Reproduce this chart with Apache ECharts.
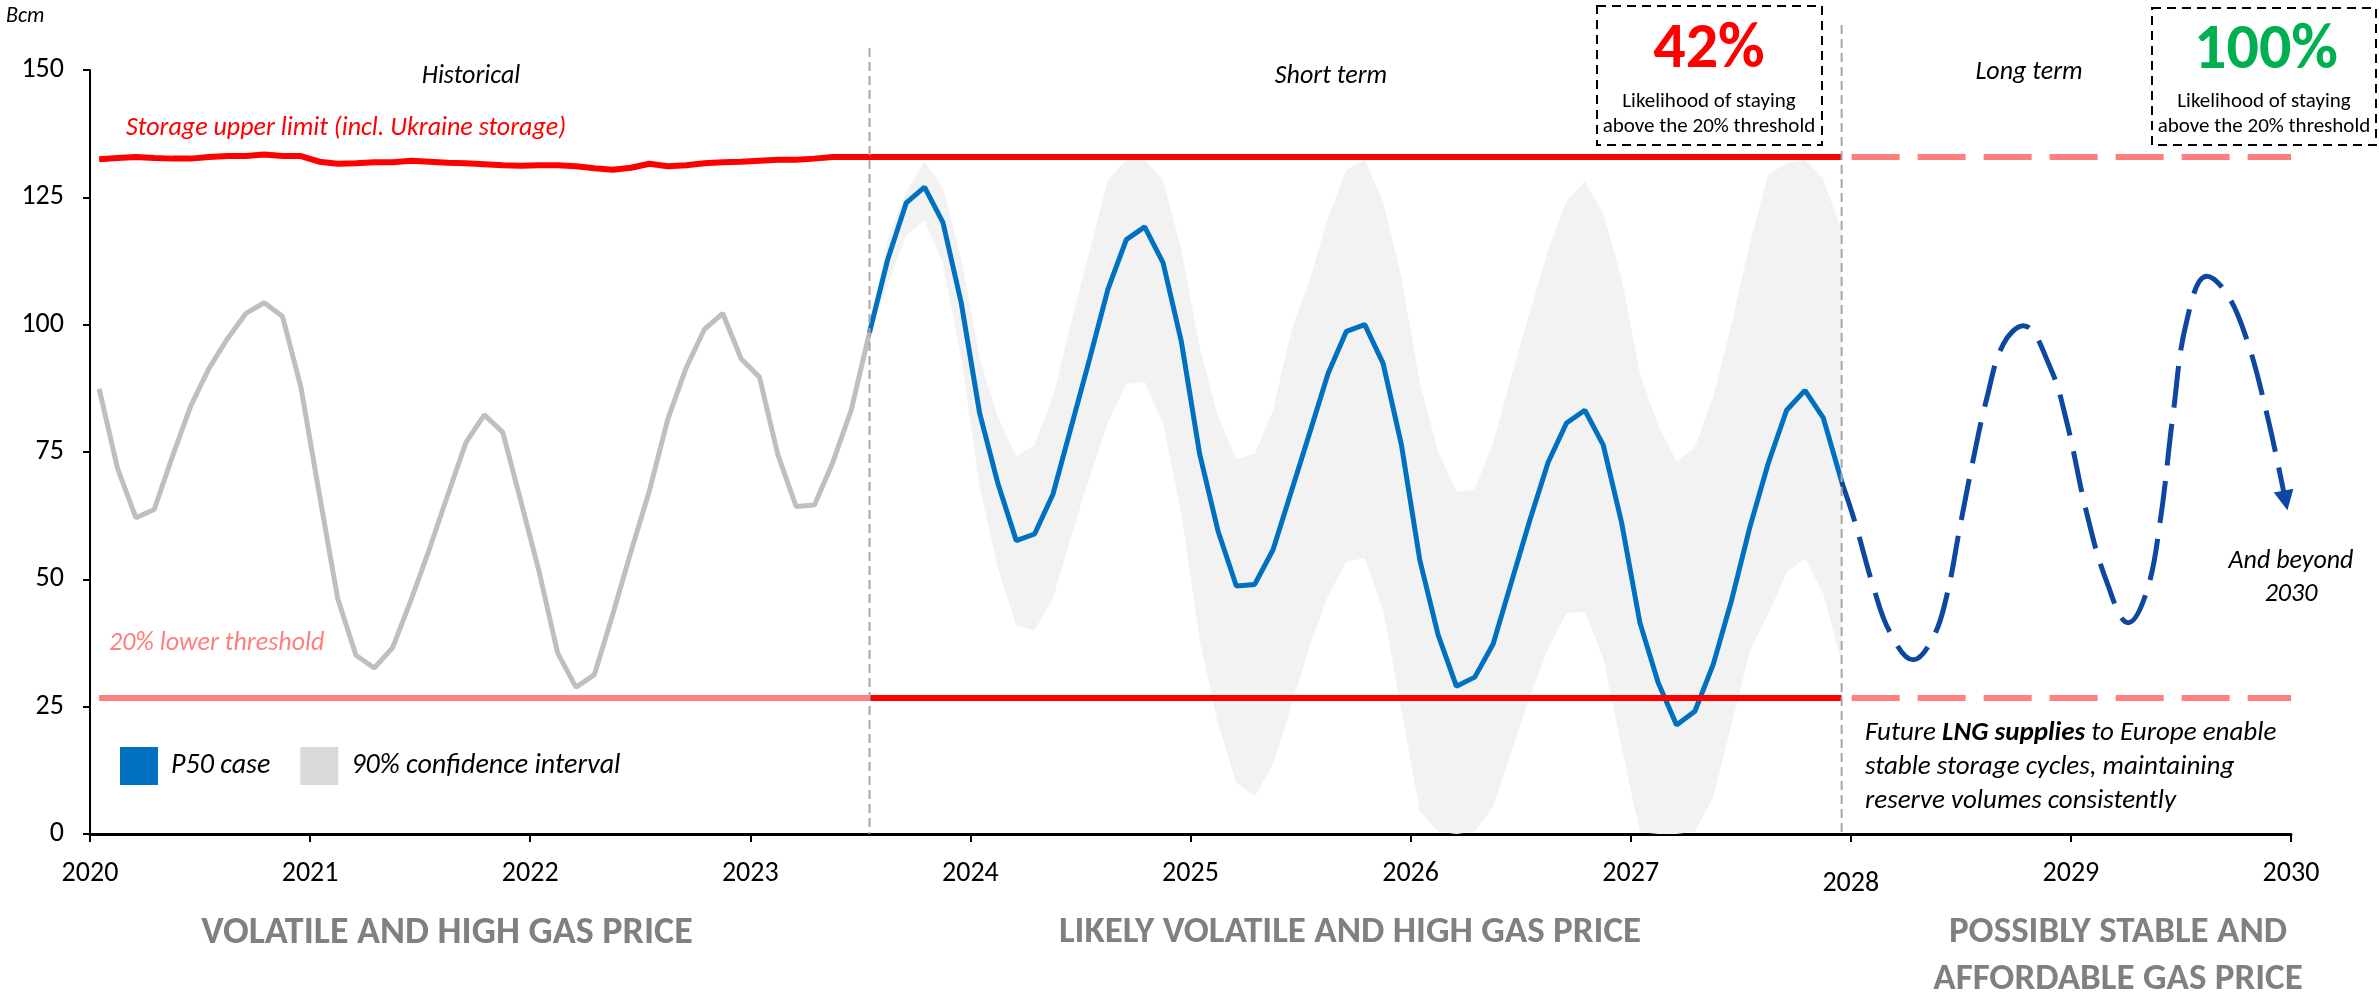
<!DOCTYPE html>
<html><head><meta charset="utf-8">
<script src="https://cdn.jsdelivr.net/npm/echarts@6/dist/echarts.min.js"></script>
<style>html,body{margin:0;padding:0;background:#fff}#c{width:2379px;height:997px}</style>
</head><body><div id="c"></div>
<script>
// ---------------- DATA ----------------
const startYear = 2020;                 // month index 0 = Jan 2020 (plotted mid-month)
const yearTicks = [2020,2021,2022,2023,2024,2025,2026,2027,2028,2029,2030];
// Historical storage, Jan 2020 .. Jul 2023 (Bcm)
const histValues = [87.4,71.8,62.1,63.7,74.2,84.1,91.5,97.3,102.2,104.3,101.6,87.7,
  66.8,46.3,35.1,32.6,36.6,45.9,55.9,66.5,76.9,82.3,78.9,65.2,
  51.3,35.5,28.8,31.3,43.1,55.5,67.4,81.4,91.5,99.1,102.2,93.3,
  89.7,74.5,64.3,64.6,73.0,83.2,98.5];
const forecastStart = 42;               // Jul 2023
// P50 case, Jul 2023 .. Dec 2027
const p50Values = [98.5,112.9,123.9,127.0,120.1,104.3,82.7,68.8,57.6,58.9,66.7,80.0,
  93.3,107.0,116.7,119.2,112.2,96.7,74.6,59.5,48.7,49.0,55.8,67.3,
  78.8,90.4,98.7,100.0,92.4,76.4,53.8,39.1,29.0,30.8,37.3,49.5,
  61.6,73.0,80.7,83.2,76.4,61.2,41.5,29.7,21.4,24.1,33.3,45.9,
  60.3,72.8,83.2,87.1,81.7,69.2];
// 90% confidence interval bounds, Jul 2023 .. Dec 2027
const bandLow = [98.0,108.0,117.5,120.5,112.0,93.5,68.3,52.2,40.9,40.0,46.3,58.5,
  70.1,80.9,88.3,88.8,80.5,63.0,38.2,21.6,10.1,7.4,13.7,25.2,
  36.9,46.8,53.5,54.2,44.1,24.3,4.5,0.5,0.0,0.5,5.4,16.2,
  27.0,36.4,43.4,43.6,34.6,17.1,0.4,0.0,0.0,0.5,7.2,21.6,
  36.0,43.2,51.4,54.1,47.2,33.7];
const bandHigh = [99.5,117.0,126.0,132.0,127.0,112.9,93.5,81.8,74.2,76.4,85.9,100.4,
  114.7,128.4,132.4,132.4,128.4,114.7,95.5,82.0,73.6,74.6,83.2,98.9,
  108.8,121.0,130.4,132.4,124.1,109.3,88.6,75.1,67.2,67.7,76.9,89.9,
  102.5,114.7,124.3,128.1,121.8,109.2,90.4,80.2,73.1,76.0,85.9,100.3,
  116.0,129.5,131.7,132.4,128.6,118.3];
// Storage upper limit (incl. Ukraine storage), Jan 2020 .. May 2023, then flat
const upperLimitHist = [132.5,132.7,132.9,132.7,132.6,132.6,132.9,133.1,133.1,133.4,133.1,133.1,
  132.0,131.6,131.7,131.9,131.9,132.2,132.0,131.8,131.7,131.5,131.3,131.2,
  131.3,131.3,131.1,130.7,130.4,130.8,131.6,131.1,131.3,131.7,131.9,132.0,
  132.2,132.4,132.4,132.6,132.9];
const upperLimitFlat = 132.9;
const lowerThreshold = 26.7;
const forecastEnd = 95;                 // Dec 2027
// Illustrative long-term path 2028-2030
const longTermYears = [2027.958,2028.019,2028.102,2028.178,2028.284,2028.375,2028.436,2028.496,2028.557,2028.617,
  2028.693,2028.784,2028.905,2028.981,2029.072,2029.163,2029.261,2029.344,2029.405,2029.465,
  2029.526,2029.617,2029.708,2029.799,2029.889,2029.975];
const longTermValues = [69.2,61.2,48.6,39.6,34.2,38.7,46.8,60.3,73.7,85.4,
  96.2,99.8,91.7,80.9,63.0,49.5,41.5,47.6,61.2,82.7,
  100.7,109.5,106.1,97.1,82.7,65.5];

// ---------------- HELPERS ----------------
const mx = i => startYear + (i + 0.5) / 12;
const F = "Carlito, 'Liberation Sans Narrow', 'DejaVu Sans Condensed', sans-serif";
const histData = histValues.map((v, k) => [mx(k), v]);
const p50Data = p50Values.map((v, k) => [mx(forecastStart + k), v]);
const bandData = bandLow.map((v, k) => [mx(forecastStart + k), v, bandHigh[k]]);
const upperData = upperLimitHist.map((v, k) => [mx(k), v]).concat([[mx(forecastEnd), upperLimitFlat]]);
const lowerHistData = [[mx(0), lowerThreshold], [mx(forecastStart), lowerThreshold]];
const lowerFcData = [[mx(forecastStart), lowerThreshold], [mx(forecastEnd), lowerThreshold]];
const ltEnd = yearTicks[yearTicks.length - 1];
const upperLtData = [[mx(forecastEnd), upperLimitFlat], [ltEnd, upperLimitFlat]];
const lowerLtData = [[mx(forecastEnd), lowerThreshold], [ltEnd, lowerThreshold]];
const longData = longTermYears.map((x, k) => {
  const last = k === longTermYears.length - 1;
  return last ? {value: [x, longTermValues[k]], symbol: 'triangle', symbolSize: [20, 20], symbolRotate: 191}
              : {value: [x, longTermValues[k]], symbol: 'none'};
});

// Band polygon drawn through the axis scales (api.coord)
function renderBand(params, api) {
  if (params.dataIndex !== 0) return null;
  const top = [], bottom = [];
  for (let k = 0; k < bandData.length; k++) {
    top.push(api.coord([bandData[k][0], bandData[k][2]]));
    bottom.push(api.coord([bandData[k][0], bandData[k][1]]));
  }
  return {type: 'polygon', shape: {points: top.concat(bottom.reverse())},
          style: {fill: '#F2F2F2', stroke: null}};
}

const chart = echarts.init(document.getElementById('c'), null, {renderer: 'canvas'});
const option = {
  animation: false,
  backgroundColor: '#fff',
  grid: {left: 90, right: 88, top: 70, bottom: 163},
  legend: {
    left: 115, top: 742, itemWidth: 38, itemHeight: 38, itemGap: 30, icon: 'rect',
    selectedMode: false,
    textStyle: {fontFamily: F, fontStyle: 'italic', fontSize: 28, color: '#000', padding: [0, 0, 0, 8]},
    data: [
      {name: 'P50 case', itemStyle: {color: '#0070C0', borderWidth: 0}},
      {name: '90% confidence interval', itemStyle: {color: '#D9D9D9', borderWidth: 0}}
    ]
  },
  xAxis: {
    type: 'value', min: yearTicks[0], max: ltEnd, interval: 1,
    axisLine: {show: true, lineStyle: {color: '#000', width: 3}},
    axisTick: {show: true, length: 8, lineStyle: {color: '#000', width: 2}},
    splitLine: {show: false},
    axisLabel: {fontFamily: F, fontSize: 28, color: '#000', margin: 26,
      formatter: v => v === 2028 ? '{low|' + v + '}' : String(v),
      rich: {low: {fontFamily: F, fontSize: 28, color: '#000', padding: [10, 0, 0, 0]}}}
  },
  yAxis: {
    type: 'value', min: 0, max: 150, interval: 25,
    axisLine: {show: true, lineStyle: {color: '#000', width: 2}},
    axisTick: {show: true, length: 7, lineStyle: {color: '#000', width: 2}},
    splitLine: {show: false},
    axisLabel: {fontFamily: F, fontSize: 28, color: '#000', margin: 26}
  },
  series: [
    {name: '90% confidence interval', type: 'custom', renderItem: renderBand, data: bandData,
     encode: {x: 0, y: [1, 2]}, silent: true, z: 1, itemStyle: {color: '#D9D9D9'}, color: '#D9D9D9'},
    {name: 'Historical', type: 'line', data: histData, symbol: 'none', z: 3,
     lineStyle: {color: '#BFBFBF', width: 5}},
    {name: 'P50 case', type: 'line', data: p50Data, symbol: 'none', z: 4, color: '#0070C0',
     lineStyle: {color: '#0070C0', width: 5}},
    {name: 'Storage upper limit', type: 'line', data: upperData, symbol: 'none', z: 5,
     lineStyle: {color: '#FF0000', width: 6}},
    {name: 'Lower threshold (historical)', type: 'line', data: lowerHistData, symbol: 'none', z: 5,
     lineStyle: {color: '#FF7F7F', width: 6}},
    {name: 'Lower threshold (forecast)', type: 'line', data: lowerFcData, symbol: 'none', z: 5,
     lineStyle: {color: '#FF0000', width: 6}},
    {name: 'Upper limit (long term)', type: 'line', data: upperLtData, symbol: 'none', z: 5,
     lineStyle: {color: '#FF7F7F', width: 6, type: [48, 18], dashOffset: 56}},
    {name: 'Lower threshold (long term)', type: 'line', data: lowerLtData, symbol: 'none', z: 5,
     lineStyle: {color: '#FF7F7F', width: 6, type: [48, 18], dashOffset: 56}},
    {name: 'Long-term path', type: 'line', data: longData, smooth: 0.4, showSymbol: true, z: 6,
     color: '#0D47A1', itemStyle: {color: '#0D47A1'},
     lineStyle: {color: '#0D47A1', width: 5, type: [42, 16]}}
  ]
};
chart.setOption(option);

// ---------- annotations (dividers placed through the axes' scales) ----------
const px = x => chart.convertToPixel({xAxisIndex: 0}, x);
const py = y => chart.convertToPixel({yAxisIndex: 0}, y);
const xDiv1 = px(mx(forecastStart)), xDiv2 = px(mx(forecastEnd)), yZero = py(0);
const T = (x, y, text, o) => ({type: 'text', x, y, z: 10, silent: true,
  style: Object.assign({text, fontFamily: F, fontSize: 26, fontStyle: 'italic', fill: '#000',
    align: 'center', verticalAlign: 'middle'}, o || {})});
const box = (x, y, w, h) => ({type: 'rect', z: 10, silent: true, shape: {x, y, width: w, height: h},
  style: {fill: 'none', stroke: '#000', lineWidth: 2, lineDash: [9, 6]}});

chart.setOption({graphic: [
  {type: 'line', silent: true, z: 9, shape: {x1: xDiv1, y1: 48, x2: xDiv1, y2: yZero},
   style: {stroke: '#A6A6A6', lineWidth: 2, lineDash: [9, 5]}},
  {type: 'line', silent: true, z: 9, shape: {x1: xDiv2, y1: 25, x2: xDiv2, y2: yZero},
   style: {stroke: '#A6A6A6', lineWidth: 2, lineDash: [9, 5]}},
  T(6, 16, 'Bcm', {align: 'left', fontSize: 22}),
  T(471, 76, 'Historical'),
  T(1331, 76, 'Short term'),
  T(2029, 72, 'Long term'),
  T(126, 128, 'Storage upper limit (incl. Ukraine storage)', {align: 'left', fill: '#FF0000'}),
  T(109, 643, '20% lower threshold', {align: 'left', fill: '#FF7F7F', fontSize: 26}),
  T(2291, 578, 'And beyond\n2030', {lineHeight: 33}),
  {type: 'text', x: 1865, y: 767, z: 10, silent: true, style: {
    text: '{n|Future }{b|LNG supplies}{n| to Europe enable}\n{n|stable storage cycles, maintaining}\n{n|reserve volumes consistently}',
    align: 'left', verticalAlign: 'middle',
    rich: {
      n: {fontFamily: F, fontSize: 27, fontStyle: 'italic', fill: '#000', lineHeight: 34},
      b: {fontFamily: F, fontSize: 27, fontStyle: 'italic', fontWeight: 'bold', fill: '#000', lineHeight: 34}
    }}},
  box(1597, 6, 225, 139),
  box(2152, 8, 224, 137),
  T(1709, 51, '42%', {fontStyle: 'normal', fontWeight: 'bold', fontSize: 64, fill: '#FF0000'}),
  T(2266, 52, '100%', {fontStyle: 'normal', fontWeight: 'bold', fontSize: 64, fill: '#00B050'}),
  T(1709, 114, 'Likelihood of staying\nabove the 20% threshold', {fontStyle: 'normal', fontSize: 21, lineHeight: 25}),
  T(2264, 114, 'Likelihood of staying\nabove the 20% threshold', {fontStyle: 'normal', fontSize: 21, lineHeight: 25}),
  T(447, 933, 'VOLATILE AND HIGH GAS PRICE', {fontStyle: 'normal', fontWeight: 'bold', fontSize: 38, fill: '#808080'}),
  T(1350, 933, 'LIKELY VOLATILE AND HIGH GAS PRICE', {fontStyle: 'normal', fontWeight: 'bold', fontSize: 37, fill: '#808080'}),
  T(2118, 956, 'POSSIBLY STABLE AND\nAFFORDABLE GAS PRICE', {fontStyle: 'normal', fontWeight: 'bold', fontSize: 37, fill: '#808080', lineHeight: 47})
]});
</script></body></html>
